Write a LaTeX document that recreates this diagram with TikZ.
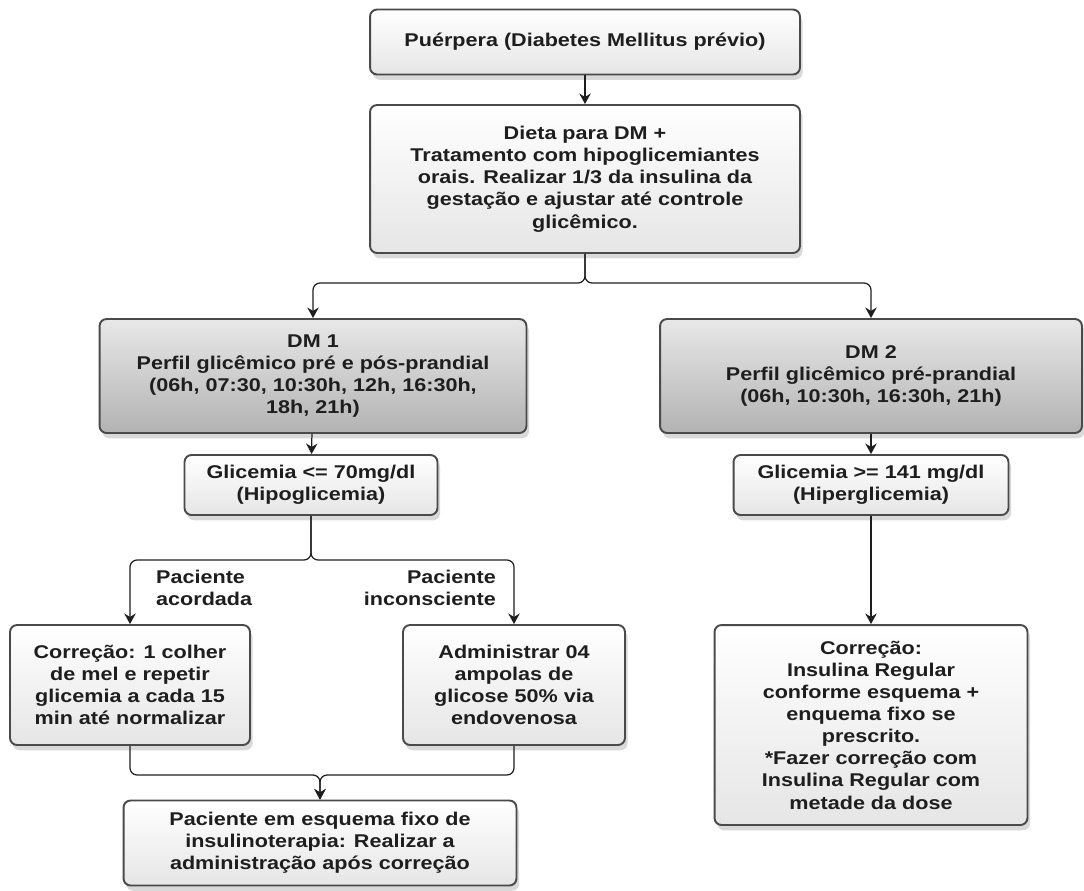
\documentclass[tikz,border=0pt]{standalone}
\usepackage{fontspec}
\setmainfont{Liberation Sans}[FakeStretch=1.17]
\usetikzlibrary{arrows.meta,shadows}
\definecolor{edge}{HTML}{4A4A4A}
\definecolor{ink}{HTML}{1E1E1E}
\tikzset{
  box/.style={draw=edge, line width=1.1pt, rounded corners=4pt, top color=white, bottom color=gray!20,
    align=center, text=ink, font=\bfseries\fontsize{10.5}{12.6}\selectfont,
    drop shadow={shadow xshift=1.5pt, shadow yshift=-3pt, opacity=0.3}},
  darkbox/.style={box, top color=gray!18, bottom color=gray!60},
  conn/.style={draw=ink, line width=0.7pt, rounded corners=4pt},
  link/.style={conn, -{Stealth[length=6pt,width=6.5pt]}},
  note/.style={text=ink, font=\bfseries\fontsize{10.5}{12.6}\selectfont}
}
\begin{document}
\begin{tikzpicture}[x=0.02cm, y=-0.02cm]
        \useasboundingbox (0,0) rectangle (1084,890);
        % Top of the flow
        \node at (585,42) (puer) [box, minimum width=8.6cm, minimum height=1.3cm] {Puérpera (Diabetes Mellitus prévio)};
        \node at (585,179) (dieta) [box, minimum width=8.6cm, minimum height=2.96cm] {Dieta para DM +\\Tratamento com hipoglicemiantes\\orais. Realizar 1/3 da insulina da\\gestação e ajustar até controle\\glicêmico.};
        
        % Type of diabetes
        \node at (313,376) (dm1) [darkbox, minimum width=8.54cm, minimum height=2.28cm] {DM 1\\Perfil glicêmico pré e pós-prandial\\(06h, 07:30, 10:30h, 12h, 16:30h,\\18h, 21h)};
        \node at (871,376) (dm2) [darkbox, minimum width=8.44cm, minimum height=2.28cm] {DM 2\\Perfil glicêmico pré-prandial\\(06h, 10:30h, 16:30h, 21h)};
        
        % Glycemia results
        \node at (311,485) (hipo) [box, minimum width=5.06cm, minimum height=1.2cm] {Glicemia <= 70mg/dl\\(Hipoglicemia)};
        \node at (871,485) (hiper) [box, minimum width=5.5cm, minimum height=1.2cm] {Glicemia >= 141 mg/dl\\(Hiperglicemia)};
        
        % Corrections
        \node at (130,685) (mel) [box, minimum width=4.8cm, minimum height=2.4cm] {Correção: 1 colher\\de mel e repetir\\glicemia a cada 15\\min até normalizar};
        \node at (514,685) (glicose) [box, minimum width=4.44cm, minimum height=2.4cm] {Administrar 04\\ampolas de\\glicose 50\% via\\endovenosa};
        \node at (871,725) (insulina) [box, minimum width=6.26cm, minimum height=4cm] {Correção:\\Insulina Regular\\conforme esquema +\\enquema fixo se\\prescrito.\\*Fazer correção com\\Insulina Regular com\\metade da dose};
        \node at (320,843) (fixo) [box, minimum width=7.86cm, minimum height=1.7cm] {Paciente em esquema fixo de\\insulinoterapia: Realizar a\\administração após correção};
        
        % Branch labels
        \node at (150,588) (acordada) [note, anchor=west, align=left] {Paciente\\acordada};
        \node at (502,588) (inconsc) [note, anchor=east, align=right] {Paciente\\inconsciente};
        
        % Split and merge points
        \coordinate (s1) at (585,283);
        \coordinate (s2) at (311,560);
        \coordinate (s3) at (320,775);
        
        % Draw connectors
        \draw[link] (puer) -- (dieta);
        \draw[link] (dieta) -- (s1) -| (dm1);
        \draw[link] (dieta) -- (s1) -| (dm2);
        \draw[link] (dm1) -- (hipo);
        \draw[link] (dm2) -- (hiper);
        \draw[link] (hipo) -- (s2) -| (mel);
        \draw[link] (hipo) -- (s2) -| (glicose);
        \draw[link] (hiper) -- (insulina);
        \draw[link] (mel) |- (s3) -- (fixo);
        \draw[link] (glicose) |- (s3) -- (fixo);
    \end{tikzpicture}
\end{document}
